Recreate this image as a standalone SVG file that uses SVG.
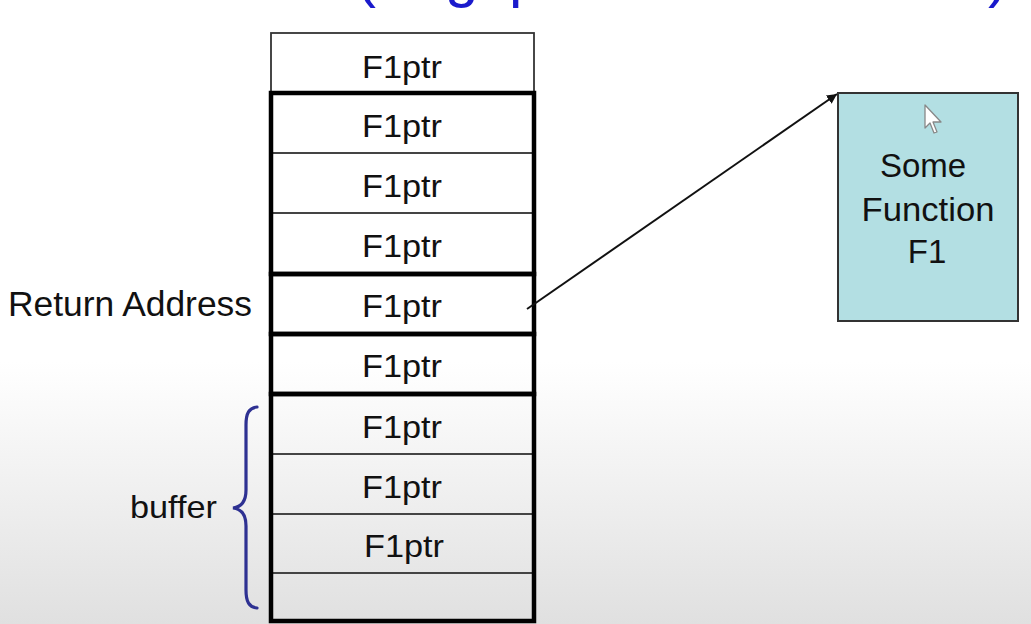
<svg xmlns="http://www.w3.org/2000/svg" width="1031" height="624" viewBox="0 0 1031 624">
  <defs>
    <linearGradient id="bg" x1="0" y1="0" x2="0" y2="1">
      <stop offset="0" stop-color="#ffffff"/>
      <stop offset="0.58" stop-color="#ffffff"/>
      <stop offset="1" stop-color="#e0e0e0"/>
    </linearGradient>
    <marker id="arrow" viewBox="0 0 10 10" refX="10" refY="5" markerWidth="10" markerHeight="10" markerUnits="userSpaceOnUse" orient="auto">
      <path d="M0,0 L10,5 L0,10 z" fill="#111"/>
    </marker>
    <style>
      .lbl { font-family: "Liberation Sans", Arial, sans-serif; fill: #111; }
      .cell { font-size: 32px; text-anchor: middle; }
      .thick { fill: none; stroke: #000; stroke-width: 4.5; }
      .thin { stroke: #444; stroke-width: 2; }
    </style>
  </defs>
  <rect x="0" y="0" width="1031" height="624" fill="url(#bg)"/>

  <text x="356" y="-4" font-family="'Liberation Sans', Arial, sans-serif" font-size="60" fill="#1a1acc">(e.<tspan x="445">g.</tspan><tspan x="509">pointer to function</tspan><tspan x="988">)</tspan></text>

  <g id="stack">
    <rect x="271" y="33" width="263" height="60" fill="none" stroke="#333" stroke-width="1.8"/>
    <line class="thin" x1="271" y1="153" x2="534" y2="153"/>
    <line class="thin" x1="271" y1="213" x2="534" y2="213"/>
    <line class="thin" x1="271" y1="454" x2="534" y2="454"/>
    <line class="thin" x1="271" y1="514" x2="534" y2="514"/>
    <line class="thin" x1="271" y1="573" x2="534" y2="573"/>
    <rect class="thick" x="271" y="93" width="263" height="181"/>
    <rect class="thick" x="271" y="274" width="263" height="60"/>
    <rect class="thick" x="271" y="334" width="263" height="60"/>
    <rect class="thick" x="271" y="394" width="263" height="227"/>
    <g class="lbl cell">
      <text x="402" y="78" textLength="80" lengthAdjust="spacingAndGlyphs">F1ptr</text>
      <text x="402" y="137" textLength="80" lengthAdjust="spacingAndGlyphs">F1ptr</text>
      <text x="402" y="197" textLength="80" lengthAdjust="spacingAndGlyphs">F1ptr</text>
      <text x="402" y="257" textLength="80" lengthAdjust="spacingAndGlyphs">F1ptr</text>
      <text x="402" y="317" textLength="80" lengthAdjust="spacingAndGlyphs">F1ptr</text>
      <text x="402" y="377" textLength="80" lengthAdjust="spacingAndGlyphs">F1ptr</text>
      <text x="402" y="438" textLength="80" lengthAdjust="spacingAndGlyphs">F1ptr</text>
      <text x="402" y="498" textLength="80" lengthAdjust="spacingAndGlyphs">F1ptr</text>
      <text x="404" y="557" textLength="80" lengthAdjust="spacingAndGlyphs">F1ptr</text>
    </g>
  </g>

  <g id="return-address">
    <text class="lbl" x="8" y="316" font-size="35" textLength="244" lengthAdjust="spacingAndGlyphs">Return Address</text>
  </g>

  <g id="buffer">
    <path d="M257,407 C249,408 246,413 246,425 L246,490 C246,502 241,507 233,508 C241,509 246,514 246,526 L246,590 C246,602 249,607 257,608" fill="none" stroke="#2e3192" stroke-width="3.2" stroke-linecap="round"/>
    <text class="lbl" x="130" y="518" font-size="32" textLength="87" lengthAdjust="spacingAndGlyphs">buffer</text>
  </g>

  <g id="function-f1">
    <rect x="838" y="93" width="180" height="228" fill="#b3dfe3" stroke="#333" stroke-width="2"/>
    <g class="lbl" font-size="33" text-anchor="middle">
      <text x="923" y="177">Some</text>
      <text x="928" y="221" textLength="133" lengthAdjust="spacingAndGlyphs">Function</text>
      <text x="927" y="263">F1</text>
    </g>
  </g>

  <g id="connectors">
    <line x1="527" y1="309" x2="837" y2="94" stroke="#111" stroke-width="2" marker-end="url(#arrow)"/>
  </g>

  <path d="M925,105 L925,128 L930,123 L934,133 L937,132 L933,122 L941,122 Z" fill="#ffffff" stroke="#888" stroke-width="1.3" stroke-linejoin="round"/>
</svg>
